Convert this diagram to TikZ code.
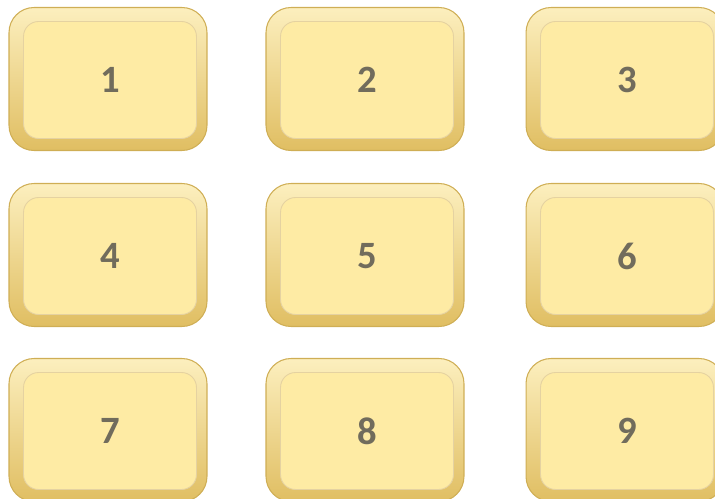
\documentclass[tikz,border=0pt]{standalone}
\usepackage{fontspec}
\setsansfont{Carlito}
\usepackage{xcolor}
\usepackage{tikz}
\usetikzlibrary{positioning}
\definecolor{keyface}{HTML}{FEEBA4}
\definecolor{keyedge}{HTML}{CFAE55}
\definecolor{keytop}{HTML}{FCEFBE}
\definecolor{keybot}{HTML}{E0BE62}
\definecolor{keytext}{HTML}{716C5C}
\tikzset{
  keyouter/.style={rounded corners=0.5cm, minimum width=3.96cm, minimum height=2.86cm,
    top color=keytop, bottom color=keybot, draw=keyedge, line width=0.6pt},
  keyinner/.style={rounded corners=0.3cm, minimum width=3.46cm, minimum height=2.34cm,
    fill=keyface, draw=keyedge!55, line width=0.5pt, text=keytext,
    font=\sffamily\bfseries\fontsize{22}{26}\selectfont},
}

\begin{document}
\begin{tikzpicture}[x=0.02cm, y=-0.02cm]
    \useasboundingbox (0,0) rectangle (715,499);

    % 按键
    \foreach \n/\cx/\cy in {1/108/79, 2/365/79, 3/625/79,
                            4/108/255, 5/365/255, 6/625/255,
                            7/108/430, 8/365/430, 9/625/430} {
        \node[keyouter] (o\n) at (\cx,\cy) {};
        \node[keyinner] (k\n) at ([shift={(2,1)}]o\n.center) {\n};
    }
\end{tikzpicture}
\end{document}
